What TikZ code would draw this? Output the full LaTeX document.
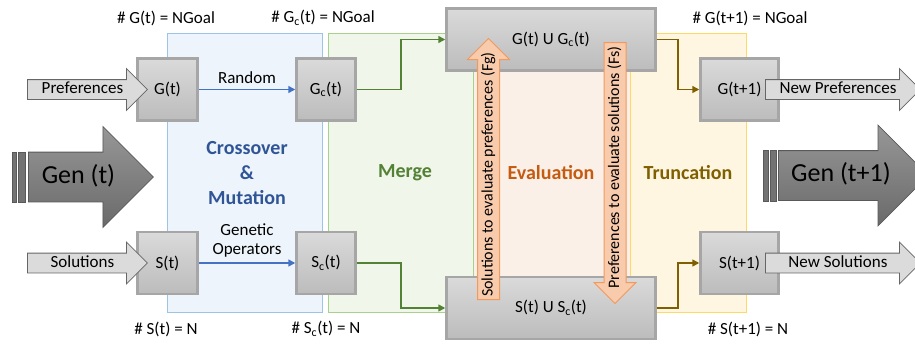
\documentclass[tikz,border=0pt]{standalone}
\usepackage{fontspec}
\setmainfont{Carlito}
\usetikzlibrary{arrows.meta, positioning}
\usetikzlibrary{shapes.arrows}

\definecolor{boxline}{HTML}{A6A6A6}
\definecolor{boxtop}{HTML}{DADADA}
\definecolor{boxbot}{HTML}{BCBCBC}
\definecolor{gentop}{HTML}{979797}
\definecolor{genbot}{HTML}{6A6A6A}
\definecolor{xotext}{HTML}{2F5597}
\definecolor{xoarrow}{HTML}{4472C4}
\definecolor{xofill}{HTML}{EDF4FB}
\definecolor{xoline}{HTML}{9DC3E6}
\definecolor{mgtext}{HTML}{548235}
\definecolor{mgfill}{HTML}{F0F6EA}
\definecolor{mgline}{HTML}{A9D18E}
\definecolor{evtext}{HTML}{C55A11}
\definecolor{evfill}{HTML}{FBF0E8}
\definecolor{evarrow}{HTML}{F8CBAD}
\definecolor{evline}{HTML}{F2995E}
\definecolor{trtext}{HTML}{7F6000}
\definecolor{trfill}{HTML}{FFF6E1}
\definecolor{trline}{HTML}{FFD966}

\tikzset{
  popbox/.style={draw=boxline, line width=2.5pt, top color=boxtop, bottom color=boxbot,
    minimum width=60pt, minimum height=62pt, inner sep=0pt},
  inarrow/.style={single arrow, draw=black!60, fill=black!14, line width=0.8pt,
    single arrow head extend=11pt, text height=11pt, text depth=3pt, inner ysep=2.5pt,
    minimum height=120pt},
  genarrow/.style={single arrow, draw=black!65, top color=gentop, bottom color=genbot,
    line width=0.8pt, single arrow head extend=25.5pt, text height=18pt, text depth=6pt,
    inner ysep=12.5pt, font=\fontsize{26}{30}\selectfont},
  genbar/.style={draw=black!65, fill=black!55, line width=0.6pt},
  evalarrow/.style={single arrow, draw=evline, fill=evarrow, line width=1pt,
    single arrow head extend=10pt, text height=11pt, text depth=3pt, inner ysep=3.5pt,
    inner xsep=0pt, minimum height=261pt, rotate=90, font=\fontsize{16}{19}\selectfont},
  flow/.style={-{Triangle[length=7pt,width=7pt]}, line width=1.5pt},
  panel/.style={line width=0.8pt},
  phase/.style={font=\bfseries\fontsize{20}{25}\selectfont, align=center},
}

\begin{document}
\begin{tikzpicture}[x=1pt, y=-1pt, font=\fontsize{17}{19}\selectfont]
  \useasboundingbox (0,0) rectangle (915,343);
  \clip (0,0) rectangle (915,343);

  % ==== Phase panels ====
  \fill[evfill] (473,33) rectangle (630,312);
  \draw[panel, draw=xoline, fill=xofill] (167,33) rectangle (322,312);
  \draw[panel, draw=mgline, fill=mgfill] (328,33) rectangle (473,312);
  \draw[panel, draw=trline, fill=trfill] (630,33) rectangle (746,312);

  \node[phase, text=xotext] (xolabel) at (247,173) {Crossover\\\&\\Mutation};
  \node[phase, text=mgtext] (mglabel) at (405,173) {Merge};
  \node[phase, text=evtext] (evlabel) at (551,173) {Evaluation};
  \node[phase, text=trtext] (trlabel) at (688,173) {Truncation};

  % ==== Populations ====
  \node[popbox] (Gt) at (167.5,89.5) {G(t)};
  \node[popbox] (St) at (167.5,263) {S(t)};
  \node[popbox, minimum width=59pt] (Gct) at (326,89.5) {G\textsubscript{c}(t)};
  \node[popbox, minimum width=59pt] (Sct) at (326,263) {S\textsubscript{c}(t)};
  \node[popbox, minimum width=209pt] (GU) at (551,39.5) {G(t) U G\textsubscript{c}(t)};
  \node[popbox, minimum width=209pt] (SU) at (551,308) {S(t) U S\textsubscript{c}(t)};
  \node[popbox, minimum width=78pt] (Gn) at (739.5,89.5) {G(t+1)};
  \node[popbox, minimum width=78pt] (Sn) at (739.5,263) {S(t+1)};

  % Sizes
  \node (cntGt) at (166,18) {\# G(t) = NGoal};
  \node (cntSt) at (166,329) {\# S(t) = N};
  \node (cntGct) at (323,18) {\# G\textsubscript{c}(t) = NGoal};
  \node (cntSct) at (326,329) {\# S\textsubscript{c}(t) = N};
  \node (cntGn) at (750,18) {\# G(t+1) = NGoal};
  \node (cntSn) at (748,329) {\# S(t+1) = N};

  % ==== Flows ====
  \draw[flow, xoarrow] (Gt) -- (Gct) node[midway, above=2pt, text=black] {Random};
  \draw[flow, xoarrow] (St) -- (Sct) node[midway, above=2pt, align=center, text=black] {Genetic\\Operators};
  \draw[flow, mgtext] (Gct.east) -- ++(44,0) |- (GU.west);
  \draw[flow, mgtext] (Sct.east) -- ++(44,0) |- (SU.west);
  \draw[flow, trtext] (GU.east) -- ++(21,0) |- (Gn.west);
  \draw[flow, trtext] (SU.east) -- ++(21,0) |- (Sn.west);

  % Fitness
  \node[evalarrow, anchor=tail] (Fg) at (488.5,300) {Solutions to evaluate preferences (Fg)};
  \node[evalarrow, shape border rotate=180, anchor=tail] (Fs) at (615,42) {Preferences to evaluate solutions (Fs)};

  % ==== In / out ====
  \node[inarrow, anchor=tail] (prefin) at (27,89.5) {Preferences};
  \node[inarrow, anchor=tail] (solin) at (27,263) {Solutions};
  \node[inarrow, anchor=tail, minimum height=155pt] (prefout) at (765,89.5) {New Preferences};
  \node[inarrow, anchor=tail, minimum height=155pt] (solout) at (765,263) {New Solutions};

  % Generations
  \draw[genbar] (12,152) rectangle (16,202);
  \draw[genbar] (18,152) rectangle (25,202);
  \node[genarrow, anchor=tail, minimum height=125pt] (gen0) at (28,177) {Gen (t)};
  \draw[genbar] (763,150) rectangle (768,201);
  \draw[genbar] (770,150) rectangle (776,201);
  \node[genarrow, anchor=tail, minimum height=150pt] (gen1) at (778,175.5) {Gen (t+1)};
\end{tikzpicture}
\end{document}
